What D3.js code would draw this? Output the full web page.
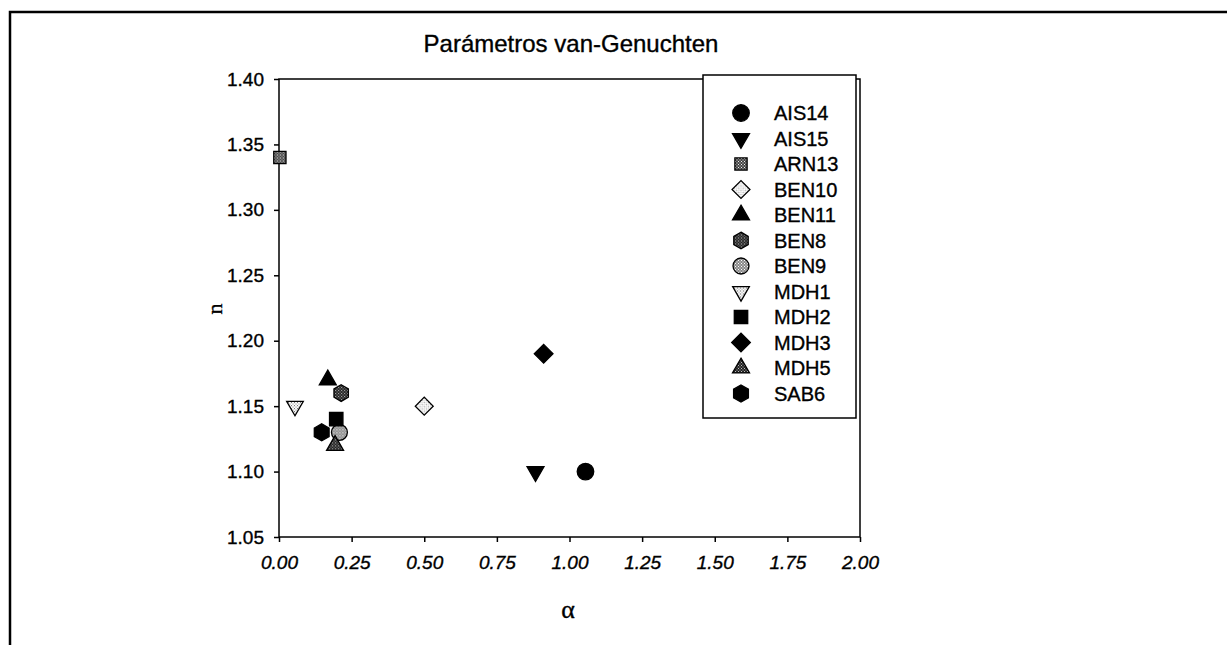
<!DOCTYPE html>
<html>
<head>
<meta charset="utf-8">
<script src="https://cdn.jsdelivr.net/npm/d3@7"></script>
<style>
  body { margin: 0; background: #fff; }
  svg { display: block; }
  text { font-family: Arial, "Liberation Sans", sans-serif; fill: #000; stroke: #000; stroke-width: 0.35px; }
</style>
</head>
<body>
<div id="chart"></div>
<script>
// samples and their van-Genuchten parameters
let names = ['AIS14', 'AIS15', 'ARN13', 'BEN10', 'BEN11', 'BEN8', 'BEN9', 'MDH1', 'MDH2', 'MDH3', 'MDH5', 'SAB6'];
let alphaValues = [1.055, 0.883, 0.003, 0.50, 0.168, 0.214, 0.208, 0.055, 0.197, 0.911, 0.193, 0.147];
let nValues = [1.10, 1.10, 1.34, 1.15, 1.17, 1.16, 1.13, 1.15, 1.14, 1.19, 1.12, 1.13];
let xTicks = [0, 0.25, 0.5, 0.75, 1, 1.25, 1.5, 1.75, 2];
let yTicks = [1.05, 1.10, 1.15, 1.20, 1.25, 1.30, 1.35, 1.40];

let width = 1227, height = 645;
let plot = { left: 279, top: 79, right: 860, bottom: 537 };

let svg = d3.select('#chart').append('svg')
  .attr('width', width).attr('height', height);

/// fill patterns for the grey markers
let defs = svg.append('defs');
function dotPattern(id, bg, dot) {
  let p = defs.append('pattern').attr('id', id)
    .attr('patternUnits', 'userSpaceOnUse').attr('width', 3).attr('height', 3);
  p.append('rect').attr('width', 3).attr('height', 3).attr('fill', bg);
  p.append('rect').attr('width', 1).attr('height', 1).attr('fill', dot);
  p.append('rect').attr('x', 1.5).attr('y', 1.5).attr('width', 1).attr('height', 1).attr('fill', dot);
}
dotPattern('darkDots', '#222', '#bbb');
dotPattern('midDots', '#444', '#eee');
dotPattern('greyDots', '#888', '#fff');
dotPattern('lightDots', '#fff', '#999');
dotPattern('openDots', '#fff', '#666');

/// outer frame of the page
svg.append('path')
  .attr('d', 'M10,' + (height + 5) + 'V12H' + (width + 5))
  .attr('fill', 'none').attr('stroke', '#000').attr('stroke-width', 2.5);

let x = d3.scaleLinear().domain([0, 2]).range([plot.left, plot.right]);
let y = d3.scaleLinear().domain([1.05, 1.40]).range([plot.bottom, plot.top]);

/// plot frame
svg.append('rect')
  .attr('x', plot.left).attr('y', plot.top)
  .attr('width', plot.right - plot.left).attr('height', plot.bottom - plot.top)
  .attr('fill', 'none').attr('stroke', '#000').attr('stroke-width', 1.5);

let yAxis = svg.append('g').attr('transform', 'translate(' + plot.left + ',0)')
  .call(d3.axisLeft(y).tickValues(yTicks).tickFormat(d3.format('.2f')).tickSize(5).tickPadding(10));
let xAxis = svg.append('g').attr('transform', 'translate(0,' + plot.bottom + ')')
  .call(d3.axisBottom(x).tickValues(xTicks).tickFormat(d3.format('.2f')).tickSize(5).tickPadding(14));

[xAxis, yAxis].forEach(function(a) {
  a.select('.domain').remove();
  a.selectAll('line').attr('stroke', '#000').attr('stroke-width', 1.5);
  a.selectAll('text').attr('font-size', 19).attr('font-family', 'Arial, "Liberation Sans", sans-serif');
});
xAxis.selectAll('text').attr('font-style', 'italic');

svg.append('text').attr('x', 571).attr('y', 52).attr('text-anchor', 'middle')
  .attr('font-size', 24).text('Parámetros van-Genuchten');
svg.append('text').attr('transform', 'translate(222,309) rotate(-90)')
  .attr('text-anchor', 'middle').attr('font-size', 22)
  .style('font-family', '"Liberation Serif", "Times New Roman", serif').text('n');
svg.append('text').attr('x', 568).attr('y', 618).attr('text-anchor', 'middle')
  .attr('font-size', 26)
  .style('font-family', '"Liberation Serif", "Times New Roman", serif').text('α');

/// marker shapes
let hexagon = {
  draw: function(ctx, size) {
    let r = Math.sqrt(size / (1.5 * Math.sqrt(3)));
    for (let i = 0; i < 6; i++) {
      let a = Math.PI / 3 * i - Math.PI / 2;
      if (i === 0) ctx.moveTo(r * Math.cos(a), r * Math.sin(a));
      else ctx.lineTo(r * Math.cos(a), r * Math.sin(a));
    }
    ctx.closePath();
  }
};
let styles = {
  AIS14: { type: d3.symbolCircle, size: 215, rot: 0, fill: '#000' },
  AIS15: { type: d3.symbolTriangle, size: 125, rot: 180, fill: '#000' },
  ARN13: { type: d3.symbolSquare, size: 150, rot: 0, fill: 'url(#midDots)' },
  BEN10: { type: d3.symbolSquare, size: 160, rot: 45, fill: 'url(#lightDots)' },
  BEN11: { type: d3.symbolTriangle, size: 125, rot: 0, fill: '#000' },
  BEN8: { type: hexagon, size: 180, rot: 0, fill: 'url(#darkDots)' },
  BEN9: { type: d3.symbolCircle, size: 200, rot: 0, fill: 'url(#greyDots)' },
  MDH1: { type: d3.symbolTriangle, size: 120, rot: 180, fill: 'url(#openDots)' },
  MDH2: { type: d3.symbolSquare, size: 180, rot: 0, fill: '#000' },
  MDH3: { type: d3.symbolSquare, size: 175, rot: 45, fill: '#000' },
  MDH5: { type: d3.symbolTriangle, size: 125, rot: 0, fill: 'url(#darkDots)' },
  SAB6: { type: hexagon, size: 190, rot: 0, fill: '#000' }
};

function drawMarker(g, name) {
  let s = styles[name];
  g.append('path')
    .attr('d', d3.symbol().type(s.type).size(s.size)())
    .attr('transform', 'rotate(' + s.rot + ')')
    .attr('fill', s.fill)
    .attr('stroke', '#000').attr('stroke-width', 1.3);
}

let data = names.map(function(d, i) { return { name: d, alpha: alphaValues[i], n: nValues[i] }; });

svg.append('g').selectAll('g')
  .data(data)
  .enter().append('g')
  .attr('transform', function(d) { return 'translate(' + x(d.alpha) + ',' + y(d.n) + ')'; })
  .each(function(d) { drawMarker(d3.select(this), d.name); });

/// legend
let legend = svg.append('g');
legend.append('rect')
  .attr('x', 703).attr('y', 75).attr('width', 153).attr('height', 343)
  .attr('fill', '#fff').attr('stroke', '#000').attr('stroke-width', 1.5);
let rows = legend.selectAll('.row')
  .data(names)
  .enter().append('g')
  .attr('class', 'row')
  .attr('transform', function(d, i) { return 'translate(0,' + (113 + i * 25.5) + ')'; });
rows.append('g').attr('transform', 'translate(741,0)')
  .each(function(d) { drawMarker(d3.select(this), d); });
rows.append('text').attr('x', 774).attr('dy', '0.35em')
  .attr('font-size', 20).text(function(d) { return d; });
</script>
</body>
</html>
